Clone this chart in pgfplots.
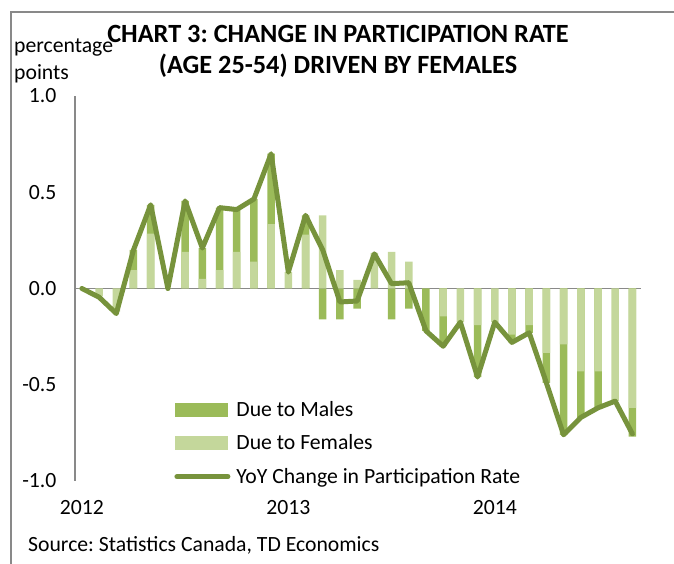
\documentclass[border=0pt]{standalone}
\usepackage{pgfplots}
\pgfplotsset{compat=1.18}
\usepackage{pgfplotstable}
\usepackage{fontspec}
\setmainfont{Carlito}
\frenchspacing

\definecolor{males}{HTML}{9BBB59}
\definecolor{females}{HTML}{C4D79B}
\definecolor{yoy}{HTML}{77933C}
\definecolor{axgray}{HTML}{898989}

% month index from Jan 2012; F = due to females, Mend = outer end of the males bar, L = YoY change
\pgfplotstableread{
m   F       Mend    L
0   0       0       0.00
1   -0.04   0       -0.045
2   -0.12   0       -0.13
3   0.095   0.20    0.20
4   0.285   0.435   0.435
5   0       0       0.00
6   0.19    0.455   0.455
7   0.05    0.21    0.21
8   0.095   0.42    0.42
9   0.19    0.41    0.41
10  0.14    0.465   0.465
11  0.335   0.70    0.70
12  0.085   0       0.085
13  0.28    0.38    0.38
14  0.38    -0.16   0.20
15  0.095   -0.16   -0.07
16  0.045   -0.105  -0.065
17  0.185   0       0.18
18  0.19    -0.16   0.025
19  0.14    -0.105  0.03
20  0       -0.22   -0.22
21  -0.145  -0.30   -0.30
22  -0.175  0       -0.175
23  -0.19   -0.46   -0.46
24  -0.175  0       -0.175
25  -0.24   -0.28   -0.28
26  -0.19   -0.23   -0.23
27  -0.335  -0.49   -0.49
28  -0.29   -0.76   -0.76
29  -0.43   -0.67   -0.67
30  -0.43   -0.62   -0.62
31  -0.585  0       -0.585
32  -0.62   -0.77   -0.755
}\ptdata

\begin{document}
\begin{tikzpicture}[x=1pt,y=1pt]
\useasboundingbox (0pt,0pt) rectangle (674pt,564pt);
% frame
\draw[axgray, line width=1.8pt] (11pt,0pt) -- (11pt,552pt) -- (674pt,552pt);

\node[font=\bfseries\fontsize{26.3}{31}\selectfont, align=center] at (338pt,513pt)
  {CHART 3: CHANGE IN PARTICIPATION RATE\\(AGE 25-54) DRIVEN BY FEMALES};
\node[font=\fontsize{21.7}{27}\selectfont, align=left, anchor=north west, inner sep=0pt] at (14pt,525pt)
  {percentage\\points};
\node[font=\fontsize{21.7}{24}\selectfont, anchor=west, inner sep=0pt] at (28pt,19pt)
  {Source: Statistics Canada, TD Economics};

\begin{axis}[
  at={(75pt,83pt)}, anchor=south west,
  scale only axis, width=566pt, height=385pt,
  xmin=-0.4, xmax=32.5, ymin=-1, ymax=1,
  axis y line*=left, axis x line*=bottom,
  x axis line style={draw=none},
  y axis line style={axgray, line width=1.2pt},
  ytick={-1,-0.5,0,0.5,1},
  yticklabel style={/pgf/number format/fixed, /pgf/number format/fixed zerofill,
    /pgf/number format/precision=1, /pgf/number format/assume math mode=true,
    font=\fontsize{21.7}{24}\selectfont, xshift=-15pt},
  xtick={0,12,24}, xticklabels={2012,2013,2014},
  xticklabel style={font=\fontsize{21.7}{24}\selectfont, yshift=-16pt},
  major tick length=0pt,
  extra y ticks={0}, extra y tick labels={},
  extra y tick style={grid=major, major grid style={axgray, line width=1.2pt}},
  clip=false,
  legend style={at={(0.17,0.218)}, anchor=north west, draw=none, fill=none,
    font=\fontsize{21.7}{24}\selectfont, row sep=13pt,
    /tikz/every odd column/.append style={column sep=4pt}},
  legend cell align=left,
]
\addplot[ybar, bar width=7.5pt, bar shift=0pt, fill=males, draw=none,
  legend image code/.code={\fill[males] (0pt,-7pt) rectangle (53pt,7pt);}]
  table[x=m, y=Mend] {\ptdata};
\addlegendentry{Due to Males}
\addplot[ybar, bar width=7.5pt, bar shift=0pt, fill=females, draw=none,
  legend image code/.code={\fill[females] (0pt,-7pt) rectangle (53pt,7pt);}]
  table[x=m, y=F] {\ptdata};
\addlegendentry{Due to Females}
\addplot[yoy, line width=5pt, line join=round, line cap=round, mark=none,
  legend image code/.code={\draw[yoy, line width=5pt, line cap=round] (2pt,0pt) -- (53pt,0pt);}]
  table[x=m, y=L] {\ptdata};
\addlegendentry{YoY Change in Participation Rate}
\end{axis}
\end{tikzpicture}
\end{document}
